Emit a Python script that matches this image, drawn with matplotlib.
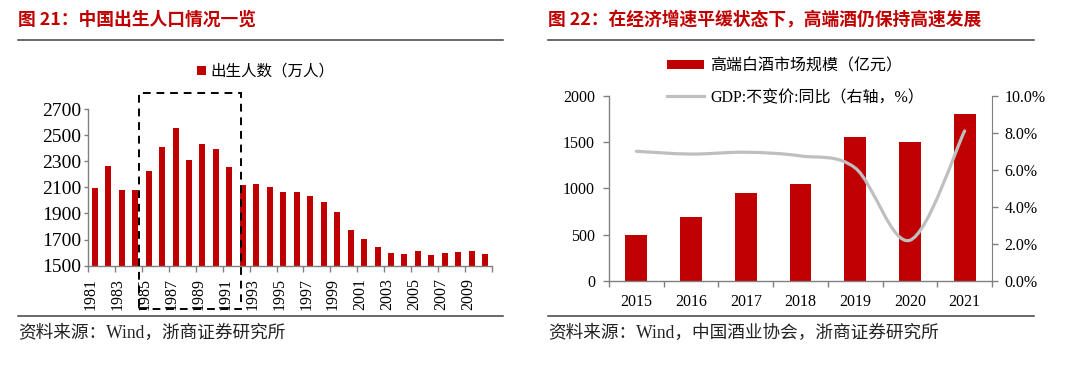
import matplotlib
matplotlib.use("Agg")
from matplotlib import pyplot as plt
from matplotlib.lines import Line2D
from matplotlib.patches import Patch, Rectangle, PathPatch
from matplotlib.path import Path
from matplotlib.transforms import blended_transform_factory
import numpy as np

### - Data

# left chart: births per year (10k people)
birth_years = list(range(1981, 2011))
births = [2092, 2263, 2080, 2077, 2228, 2411, 2552, 2307, 2434, 2391,
          2258, 2118, 2126, 2105, 2064, 2067, 2036, 1990, 1909, 1771,
          1702, 1646, 1597, 1592, 1615, 1582, 1595, 1607, 1612, 1587]
birth_label = "出生人数（万人）"
highlight_years = (1985, 1991)

# right chart: high-end baijiu market (100m yuan) and GDP growth
wine_years = ["2015", "2016", "2017", "2018", "2019", "2020", "2021"]
wine_market = [500, 690, 950, 1050, 1550, 1500, 1800]
gdp_growth = [7.0, 6.85, 6.95, 6.75, 6.1, 2.2, 8.1]
wine_label = "高端白酒市场规模（亿元）"
gdp_label = "GDP:不变价:同比（右轴，%）"

title_left = "图 21：中国出生人口情况一览"
title_right = "图 22：在经济增速平缓状态下，高端酒仍保持高速发展"
source_left = "资料来源：Wind，浙商证券研究所"
source_right = "资料来源：Wind，中国酒业协会，浙商证券研究所"

RED = "#C00000"
GREY_LINE = "#BFBFBF"
AXIS_C = "#808080"
CJK = ["Liberation Serif", "Noto Sans CJK SC"]

plt.rcParams['font.family'] = CJK

W, H = 1080, 384
fig = plt.figure(figsize=(W / 100, H / 100), dpi=100)

def fx(px):
    return px / W

def fy(py):
    return 1 - py / H

# Excel style smoothed line (catmull-rom -> bezier)
def smooth_path(xs, ys):
    n = len(xs)
    verts = [(xs[0], ys[0])]
    codes = [Path.MOVETO]
    for i in range(n - 1):
        i0, i3 = max(i - 1, 0), min(i + 2, n - 1)
        c1 = (xs[i] + (xs[i + 1] - xs[i0]) / 6, ys[i] + (ys[i + 1] - ys[i0]) / 6)
        c2 = (xs[i + 1] - (xs[i3] - xs[i]) / 6, ys[i + 1] - (ys[i3] - ys[i]) / 6)
        verts += [c1, c2, (xs[i + 1], ys[i + 1])]
        codes += [Path.CURVE4] * 3
    return Path(verts, codes)

def style_axis(ax):
    for s in ["top", "right"]:
        ax.spines[s].set_visible(False)
    for s in ["left", "bottom", "right"]:
        ax.spines[s].set_color(AXIS_C)
        ax.spines[s].set_linewidth(1.0)

### - Headers / footers
for x0, x1, title, src in [(18, 503, title_left, source_left), (548, 1034, title_right, source_right)]:
    fig.text(fx(x0), fy(20), title, fontsize=12.8, fontweight="bold", color=RED,
             family=["Noto Sans CJK SC"], va="center", ha="left")
    fig.add_artist(Line2D([fx(x0), fx(x1)], [fy(40), fy(40)], color="#404040", lw=1.1))
    fig.add_artist(Line2D([fx(x0), fx(x1)], [fy(316), fy(316)], color="#404040", lw=1.1))
    fig.text(fx(x0), fy(333), src, fontsize=12.7, color="#222222", family=CJK, va="center", ha="left")

### - Left chart
ax1 = fig.add_axes([fx(88), fy(265.7), fx(492 - 88), (265.7 - 109) / H])
xi = np.arange(len(births))
ax1.bar(xi, births, width=0.45, color=RED, zorder=2)
ax1.set_xlim(-0.5, len(births) - 0.5)
ax1.set_ylim(1500, 2700)
ax1.set_yticks(np.arange(1500, 2701, 200))
style_axis(ax1)
ax1.tick_params(axis="y", length=3, width=1, color=AXIS_C, labelsize=14, pad=2)
ax1.set_xticks(np.arange(-0.5, len(births), 2))
ax1.set_xticklabels([])
ax1.tick_params(axis="x", which="major", length=4, width=1, color=AXIS_C)
ax1.set_xticks(xi[::2] - 0.3, minor=True)
ax1.set_xticklabels([str(y) for y in birth_years[::2]], minor=True, rotation=90, fontsize=11.5)
ax1.tick_params(axis="x", which="minor", length=0, pad=9)

# dashed highlight box around 1985-1991
trans = blended_transform_factory(ax1.transData, ax1.transAxes)
i0 = birth_years.index(highlight_years[0])
i1 = birth_years.index(highlight_years[1])
box = Rectangle((i0 - 0.7, -0.276), (i1 + 0.85) - (i0 - 0.7), 1.38, transform=trans,
                fill=False, edgecolor="black", lw=1.4, linestyle=(0, (4, 3)), clip_on=False, zorder=5)
ax1.add_patch(box)

fig.legend(handles=[Patch(facecolor=RED, edgecolor="none")], labels=[birth_label],
           loc="center left", bbox_to_anchor=(fx(197), fy(72)), frameon=False,
           fontsize=11.2, handlelength=0.55, handleheight=0.55, handletextpad=0.3,
           borderpad=0, borderaxespad=0)

### - Right chart
ax2 = fig.add_axes([fx(609), fy(281), fx(992 - 609), 185.3 / H])
wx = np.arange(len(wine_years))
ax2.bar(wx, wine_market, width=0.4, color=RED, zorder=2)
ax2.set_xlim(-0.5, len(wine_years) - 0.5)
ax2.set_ylim(0, 2000)
ax2.set_yticks(np.arange(0, 2001, 500))
style_axis(ax2)
ax2.tick_params(axis="y", length=4, width=1, color=AXIS_C, labelsize=11.5, pad=6)
ax2.set_xticks(np.arange(-0.5, len(wine_years), 1))
ax2.set_xticklabels([])
ax2.tick_params(axis="x", which="major", length=4, width=1, color=AXIS_C)
ax2.set_xticks(wx, minor=True)
ax2.set_xticklabels(wine_years, minor=True, fontsize=11.5)
ax2.tick_params(axis="x", which="minor", length=0, pad=9)

ax3 = ax2.twinx()
ax3.set_ylim(0, 10)
ax3.set_yticks(np.arange(0, 10.1, 2))
ax3.set_yticklabels(["{:.1f}%".format(v) for v in np.arange(0, 10.1, 2)])
for s in ["top", "left", "bottom"]:
    ax3.spines[s].set_visible(False)
ax3.spines["right"].set_color(AXIS_C)
ax3.tick_params(axis="y", length=4, width=1, color=AXIS_C, labelsize=11.5, pad=5)
ax3.add_patch(PathPatch(smooth_path(list(wx), gdp_growth), fill=False,
                        edgecolor=GREY_LINE, lw=2.3, capstyle="round", zorder=3))

fig.legend(handles=[Patch(facecolor=RED, edgecolor="none")], labels=[wine_label],
           loc="center left", bbox_to_anchor=(fx(667), fy(66)), frameon=False,
           fontsize=11.5, handlelength=2.3, handleheight=0.5, handletextpad=0.4,
           borderpad=0, borderaxespad=0)
fig.legend(handles=[Line2D([], [], color=GREY_LINE, lw=2.3)], labels=[gdp_label],
           loc="center left", bbox_to_anchor=(fx(667), fy(98)), frameon=False,
           fontsize=11.5, handlelength=2.3, handletextpad=0.4,
           borderpad=0, borderaxespad=0)

fig.savefig("out.png", dpi=100, facecolor="white")
